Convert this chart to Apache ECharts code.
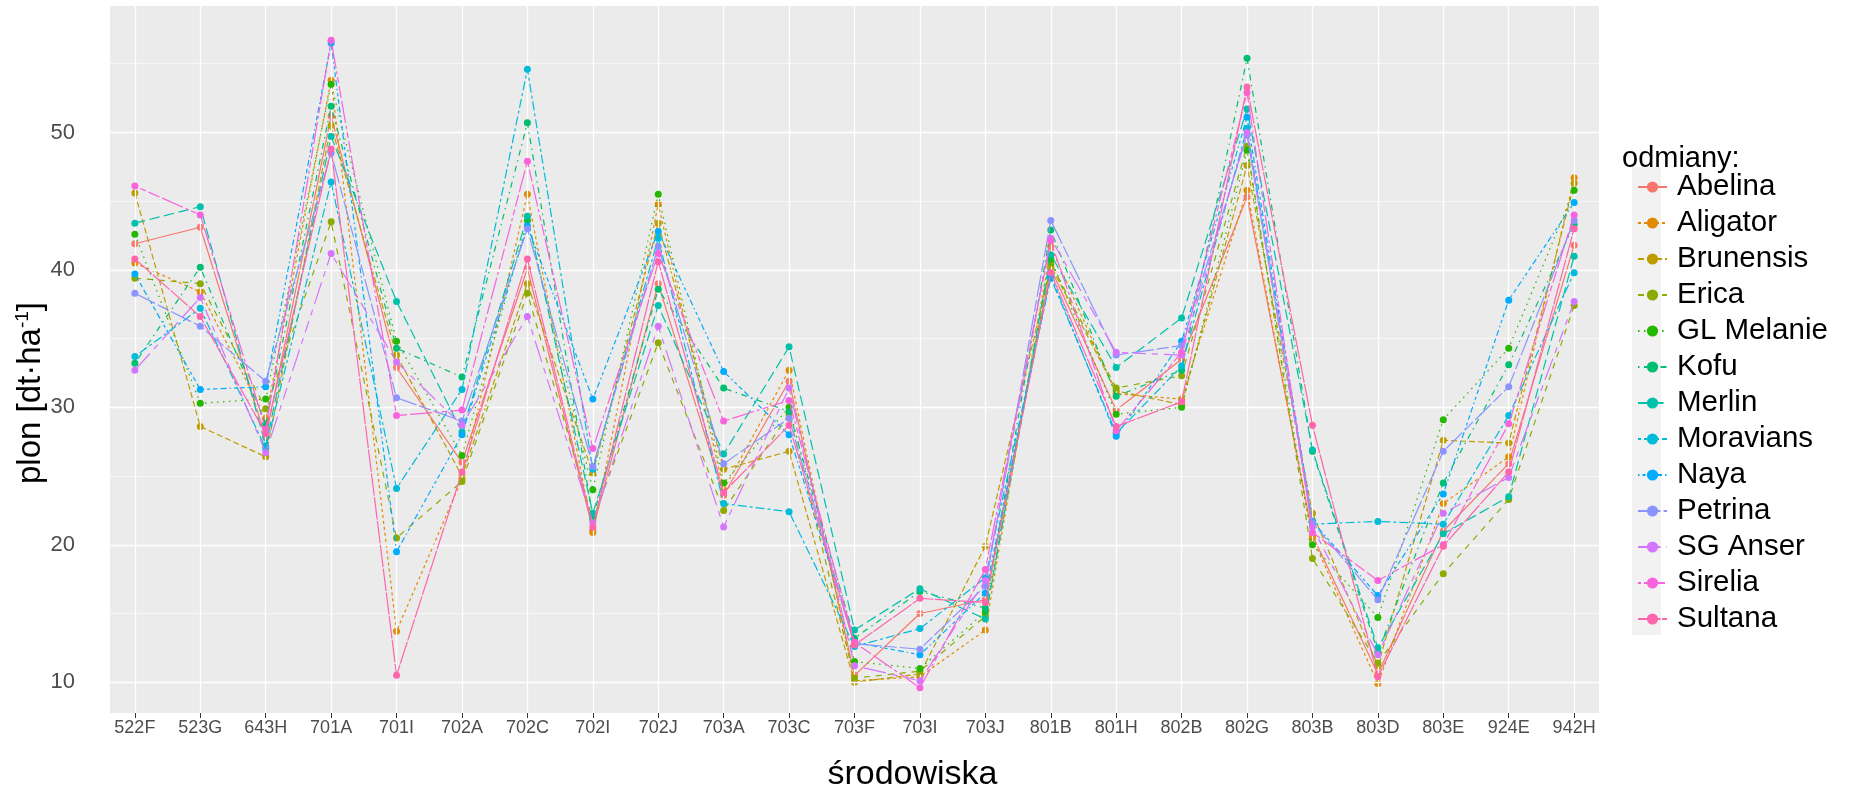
<!DOCTYPE html>
<html>
<head>
<meta charset="utf-8">
<title>plon odmian</title>
<script src="https://cdn.jsdelivr.net/npm/echarts@6/dist/echarts.min.js"></script>
<style>
  html, body { margin: 0; padding: 0; background: #fff; }
  #chart { width: 1854px; height: 792px; }
</style>
</head>
<body>
<div id="chart"></div>
<script>
// środowiska (x)
const categories = ['522F', '523G', '643H', '701A', '701I', '702A', '702C', '702I', '702J', '703A', '703C', '703F',
  '703I', '703J', '801B', '801H', '802B', '802G', '803B', '803D', '803E', '924E', '942H']

// plon [dt/ha] dla każdej odmiany
const abelina = [41.9, 43.1, 27.8, 51.2, 32.9, 26.0, 40.1, 21.1, 39.0, 23.6, 31.9, 10.5, 15.0, 16.0, 40.1, 29.8, 33.5, 45.3, 20.7, 10.6, 21.0, 25.9, 41.8]
const aligator = [40.5, 38.4, 29.2, 53.8, 13.7, 24.8, 45.5, 20.9, 44.8, 24.0, 32.7, 10.1, 10.4, 13.8, 41.7, 31.0, 30.6, 45.8, 20.5, 9.9, 23.0, 26.4, 46.7]
const brunensis = [45.6, 28.6, 26.4, 50.5, 33.8, 25.0, 39.0, 25.2, 43.4, 25.5, 26.8, 10.0, 10.6, 19.9, 40.3, 31.2, 30.2, 47.6, 22.3, 11.2, 27.6, 27.4, 46.3]
const erica = [39.4, 39.0, 29.9, 43.5, 20.5, 24.6, 38.3, 21.8, 34.7, 22.5, 29.5, 10.3, 10.8, 14.8, 40.5, 31.4, 32.3, 49.0, 19.0, 11.4, 17.9, 23.3, 37.4]
const glMelanie = [42.6, 30.3, 30.6, 53.5, 34.8, 26.5, 43.6, 24.0, 45.5, 24.5, 30.0, 11.5, 11.0, 15.1, 40.8, 29.5, 30.0, 48.7, 20.0, 14.7, 29.1, 34.3, 45.8]
const kofu = [33.2, 40.2, 28.8, 51.9, 34.3, 32.2, 50.7, 22.0, 38.6, 31.4, 29.7, 13.2, 16.6, 15.4, 42.9, 30.8, 32.7, 55.4, 26.8, 12.2, 24.5, 33.1, 43.3]
const merlin = [43.4, 44.6, 27.2, 49.7, 37.7, 28.2, 43.9, 22.3, 37.4, 26.6, 34.4, 13.8, 16.8, 14.6, 41.1, 32.9, 36.5, 51.7, 26.9, 12.5, 20.8, 23.5, 41.0]
const moravians = [33.7, 37.2, 27.0, 46.4, 24.1, 31.3, 54.6, 25.5, 42.3, 23.0, 22.4, 12.6, 13.9, 17.6, 39.4, 28.1, 33.0, 50.3, 21.5, 21.7, 21.5, 29.4, 39.8]
const naya = [39.7, 31.3, 31.5, 56.5, 19.5, 28.0, 43.2, 30.6, 42.8, 32.6, 28.0, 12.9, 12.0, 16.5, 39.6, 27.9, 34.8, 51.1, 21.7, 16.3, 23.7, 37.8, 44.9]
const petrina = [38.3, 35.9, 31.9, 48.5, 30.7, 29.0, 43.0, 25.7, 41.7, 25.9, 29.2, 12.8, 12.4, 17.0, 43.6, 33.8, 34.5, 49.8, 21.6, 16.0, 26.8, 31.5, 43.6]
const sgAnser = [32.7, 38.0, 26.7, 41.2, 33.3, 28.7, 36.6, 21.6, 35.9, 21.3, 31.4, 11.2, 10.1, 17.4, 42.3, 34.0, 33.8, 50.0, 21.3, 12.0, 22.3, 24.9, 37.7]
const sirelia = [46.1, 44.0, 28.4, 56.7, 29.4, 29.8, 47.9, 27.0, 41.2, 29.0, 30.5, 12.9, 9.6, 18.2, 42.1, 28.3, 34.0, 52.9, 20.9, 17.4, 20.0, 28.8, 44.0]
const sultana = [40.8, 36.6, 28.1, 48.8, 10.5, 25.3, 40.8, 21.3, 40.6, 23.8, 28.7, 12.7, 16.1, 15.8, 39.8, 28.6, 30.4, 53.3, 28.7, 10.4, 19.9, 25.3, 43.0]

const names = ['Abelina', 'Aligator', 'Brunensis', 'Erica', 'GL Melanie', 'Kofu', 'Merlin', 'Moravians', 'Naya',
  'Petrina', 'SG Anser', 'Sirelia', 'Sultana']
const values = [abelina, aligator, brunensis, erica, glMelanie, kofu, merlin, moravians, naya, petrina, sgAnser, sirelia, sultana]

// y tick labels
const yTicks = [10, 20, 30, 40, 50]
const yMinor = [15, 25, 35, 45, 55]

// ggplot hue palette + linetype palette
const colors = ['#F8766D', '#E18A00', '#BE9C00', '#8CAB00', '#24B700', '#00BE70', '#00C1AB', '#00BBDA', '#00ACFC',
  '#8B93FF', '#D575FE', '#F962DD', '#FF65AC']
const dashes = ['solid', [3, 3], [6, 3], [6, 6], [1.5, 4.5], [1.5, 4.5, 6, 4.5], [10.5, 4.5], [3, 3, 9, 3],
  [1.5, 3, 3, 3, 4.5, 3, 6, 3], [22.5, 3, 12, 3], [22.5, 6, 6, 6, 12, 6, 6, 6], [3, 3, 6, 3, 12, 3, 22.5, 3], [22.5, 1.5]]

const FONT = 'Liberation Sans, Arial, sans-serif'
const catIndex = categories.map((c, i) => i)

const chart = echarts.init(document.getElementById('chart'), null, { renderer: 'canvas' })

// linie siatki (białe) rysowane jako markLine na pustej serii
const gridSeries = {
  type: 'line',
  name: '_grid',
  data: catIndex.map(i => [i, null]),
  silent: true,
  z: 1,
  symbol: 'none',
  markLine: {
    silent: true,
    symbol: 'none',
    animation: false,
    label: { show: false },
    emphasis: { disabled: true },
    data: [
      ...catIndex.map(i => ({ xAxis: i, lineStyle: { color: '#fff', width: 1.3, type: 'solid' } })),
      ...yTicks.map(v => ({ yAxis: v, lineStyle: { color: '#fff', width: 1.3, type: 'solid' } })),
      ...yMinor.map(v => ({ yAxis: v, lineStyle: { color: '#fff', width: 0.6, type: 'solid' } }))
    ]
  }
}

const series = names.map((name, i) => ({
  type: 'line',
  name: name,
  data: values[i].map((v, j) => [j, v]),
  z: 2 + i,
  symbol: 'circle',
  symbolSize: 7,
  showSymbol: true,
  itemStyle: { color: colors[i] },
  lineStyle: { color: colors[i], width: 1.2, type: dashes[i] },
  emphasis: { disabled: true }
}))

const option = {
  backgroundColor: '#fff',
  animation: false,
  textStyle: { fontFamily: FONT },
  grid: {
    left: 110,
    right: 255,
    top: 6,
    bottom: 79,
    outerBoundsMode: 'none',
    containLabel: false,
    show: true,
    backgroundColor: '#EBEBEB',
    borderWidth: 0
  },
  xAxis: {
    type: 'value',
    min: -0.38,
    max: 22.38,
    axisLine: { show: false },
    axisTick: { show: true, length: 5, lineStyle: { color: '#333' }, customValues: catIndex },
    axisLabel: {
      fontSize: 18, color: '#4D4D4D', margin: 6, fontFamily: FONT,
      customValues: catIndex,
      formatter: v => categories[Math.round(v)]
    },
    splitLine: { show: false },
    name: 'środowiska',
    nameLocation: 'middle',
    nameMoveOverlap: false,
    nameGap: 45,
    nameTextStyle: { fontSize: 34, color: '#000', fontFamily: FONT, padding: [0, 0, 0, 116] }
  },
  yAxis: {
    type: 'value',
    min: 7.76,
    max: 59.2,
    axisLine: { show: false },
    axisTick: { show: true, length: 5, lineStyle: { color: '#333' }, customValues: yTicks },
    axisLabel: { fontSize: 22, color: '#4D4D4D', margin: 35, fontFamily: FONT, customValues: yTicks },
    splitLine: { show: false },
    name: '{a|plon [dt·ha}{s|-1}{a|]}',
    nameLocation: 'middle',
    nameMoveOverlap: false,
    nameGap: 61,
    nameTextStyle: {
      color: '#000', fontFamily: FONT, padding: [0, 67, 0, 0],
      rich: {
        a: { fontSize: 33, fontFamily: FONT, color: '#000', lineHeight: 36 },
        s: { fontSize: 19, fontFamily: FONT, color: '#000', verticalAlign: 'top', lineHeight: 36 }
      }
    }
  },
  legend: {
    orient: 'vertical',
    left: 1632,
    top: 167,
    itemWidth: 29,
    itemHeight: 14,
    itemGap: 6,
    selectedMode: false,
    data: names,
    textStyle: { fontSize: 29.5, color: '#000', fontFamily: FONT, lineHeight: 30, padding: [0, 0, 0, 5] }
  },
  graphic: [
    {
      type: 'rect',
      left: 1632,
      top: 167,
      z: -1,
      shape: { width: 29, height: 468 },
      style: { fill: '#F2F2F2' }
    },
    {
      type: 'text',
      left: 1622,
      top: 144,
      style: { text: 'odmiany:', fontSize: 29, fill: '#000', fontFamily: FONT }
    }
  ],
  series: [gridSeries, ...series]
}

chart.setOption(option)
</script>
</body>
</html>
